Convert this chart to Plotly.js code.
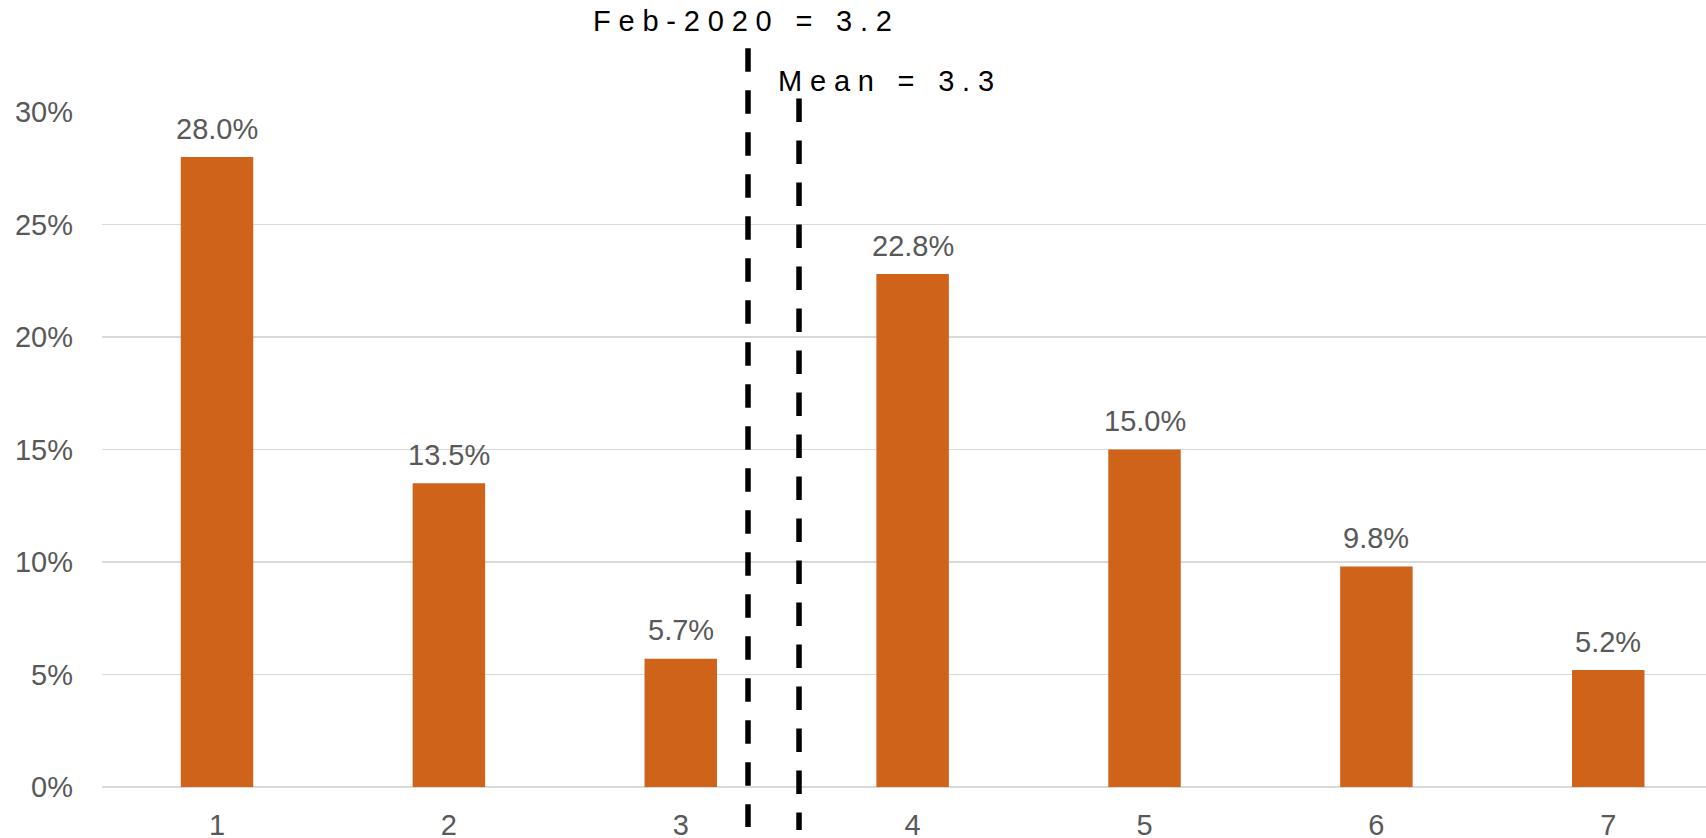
<!DOCTYPE html>
<html>
<head>
<meta charset="utf-8">
<script src="https://cdn.plot.ly/plotly-3.0.1.min.js"></script>
<style>
  html, body { margin: 0; padding: 0; background: #fff; }
  #chart { width: 1706px; height: 838px; }
  g.annotation[data-index="7"] text, g.annotation[data-index="8"] text { letter-spacing: 7.8px; }
</style>
</head>
<body>
<div id="chart"></div>
<script>
// ---- data ----
const categories = [1, 2, 3, 4, 5, 6, 7];
const tickLabels = ['1', '2', '3', '4', '5', '6', '7'];
const shares = [28.0, 13.5, 5.7, 22.8, 15.0, 9.8, 5.2];      // percent
const shareLabels = ['28.0%', '13.5%', '5.7%', '22.8%', '15.0%', '9.8%', '5.2%'];
const refLabels = ['Feb-2020 = 3.2', 'Mean = 3.3'];
const refPositions = [3.29, 3.51];   // where the dashed markers are drawn on the axis

// ---- styles ----
const barColor = '#CF631A';
const textGray = '#595959';
const fontFam = '"Liberation Sans", Arial, sans-serif';

const refStyle = [
  { top: 1.0944, bottom: -0.0593, labelY: 1.1344, shift: -157 },
  { top: 1.0201, bottom: -0.0637, labelY: 1.0456, shift: -23 }
];

const shapes = refPositions.map((x, i) => ({
  type: 'line', xref: 'x', yref: 'paper',
  x0: x, x1: x, y0: refStyle[i].top, y1: refStyle[i].bottom,
  line: { color: '#000000', width: 5.5, dash: '23.5px,18.5px' },
  layer: 'above'
}));

const annotations = categories.map((c, i) => ({
  x: c, y: shares[i], xref: 'x', yref: 'y',
  text: shareLabels[i], showarrow: false,
  xanchor: 'center', yanchor: 'bottom', yshift: 10.5,
  font: { family: fontFam, size: 29, color: textGray }
})).concat(refLabels.map((t, i) => ({
  x: refPositions[i], y: refStyle[i].labelY, xref: 'x', yref: 'paper',
  text: t, showarrow: false, align: 'left',
  xanchor: 'left', yanchor: 'middle', xshift: refStyle[i].shift,
  font: { family: fontFam, size: 29, color: '#000000' }
})));

const trace = {
  type: 'bar', x: categories, y: shares,
  width: 0.3125,
  marker: { color: barColor, line: { width: 0 } },
  hoverinfo: 'none'
};

const layout = {
  width: 1706, height: 838,
  margin: { l: 102, r: 0, t: 112, b: 51, pad: 0 },
  paper_bgcolor: '#ffffff', plot_bgcolor: '#ffffff',
  showlegend: false,
  font: { family: fontFam, size: 29, color: textGray },
  xaxis: {
    range: [0.504, 7.4215],
    tickmode: 'array', tickvals: categories, ticktext: tickLabels,
    showgrid: false, zeroline: false, showline: false, ticks: '',
    ticklabelstandoff: 18,
    tickfont: { family: fontFam, size: 29, color: textGray }
  },
  yaxis: {
    range: [0, 30], dtick: 5, tick0: 0, ticksuffix: '%',
    showgrid: true, gridcolor: '#d9d9d9', gridwidth: 1.6,
    zeroline: true, zerolinecolor: '#d9d9d9', zerolinewidth: 2.2,
    showline: false, ticks: '',
    ticklabelstandoff: 28,
    tickfont: { family: fontFam, size: 29, color: textGray }
  },
  shapes: shapes,
  annotations: annotations
};

Plotly.newPlot('chart', [trace], layout, { staticPlot: true, displayModeBar: false });
</script>
</body>
</html>
